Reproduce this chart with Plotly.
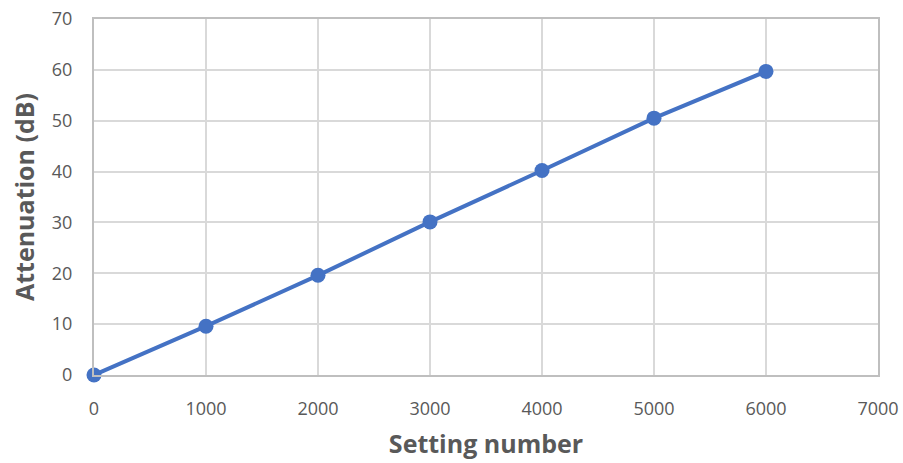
import plotly.graph_objects as go

settings = [0, 1000, 2000, 3000, 4000, 5000, 6000]
attenuation = [0.0, 9.6, 19.6, 30.1, 40.2, 50.5, 59.7]
x_ticks = [0, 1000, 2000, 3000, 4000, 5000, 6000, 7000]
y_ticks = [0, 10, 20, 30, 40, 50, 60, 70]

fig = go.Figure()
fig.add_trace(go.Scatter(
    x=settings, y=attenuation, mode="lines+markers",
    line=dict(color="#4472C4", width=4),
    marker=dict(color="#4472C4", size=15),
    showlegend=False, cliponaxis=False,
))

axis_common = dict(
    showgrid=True, gridcolor="#d9d9d9", gridwidth=2,
    showline=True, linecolor="#bfbfbf", linewidth=2,
    zeroline=False, ticks="", automargin=False,
    tickfont=dict(family="Open Sans", size=18, color="#595959"),
    title_font=dict(family="Open Sans", size=25, color="#595959"),
)

fig.update_layout(
    width=903, height=463,
    margin=dict(l=94, r=25, t=19, b=88),
    paper_bgcolor="white", plot_bgcolor="white",
    xaxis=dict(range=[0, 7000], tickvals=x_ticks, mirror=True,
               title=dict(text="<b>Setting number</b>", standoff=17),
               ticklabelstandoff=16, **axis_common),
    yaxis=dict(range=[0, 70], tickvals=y_ticks, mirror=True,
               title=dict(text="<b>Attenuation (dB)</b>", standoff=10),
               ticklabelstandoff=16, **axis_common),
)

fig.write_html(
    "out.html",
    config={"displayModeBar": False},
    post_script="document.body.style.margin='0';document.body.style.overflow='hidden';",
)
